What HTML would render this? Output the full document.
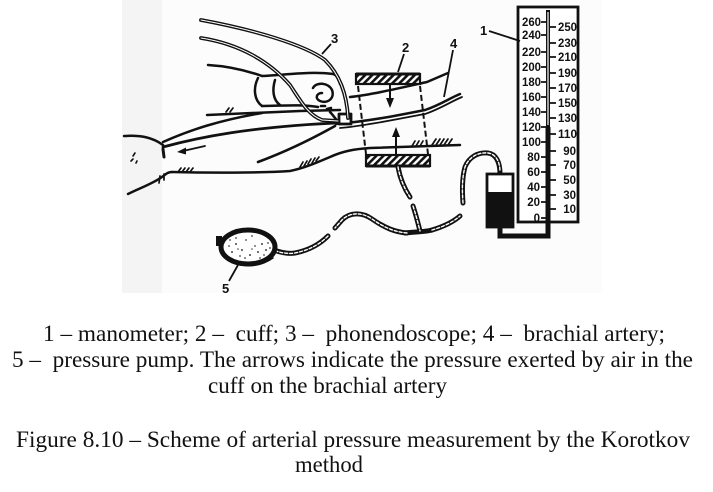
<!DOCTYPE html>
<html>
<head>
<meta charset="utf-8">
<style>
  html,body{margin:0;padding:0;background:#fff;}
  body{width:713px;height:492px;overflow:hidden;}
  svg{display:block;}
  .cap{font-family:"Liberation Serif","Times New Roman",serif;font-size:23px;fill:#111;white-space:pre;}
  .num{font-family:"Liberation Sans",Arial,sans-serif;font-size:11.5px;font-weight:bold;fill:#111;}
  .lab{font-family:"Liberation Sans",Arial,sans-serif;font-size:13px;font-weight:bold;fill:#111;}
</style>
</head>
<body>
<svg width="713" height="492" viewBox="0 0 713 492" xmlns="http://www.w3.org/2000/svg">
  <defs>
    <pattern id="h" width="5" height="5" patternUnits="userSpaceOnUse" patternTransform="rotate(45)">
      <rect width="5" height="5" fill="#fff"/>
      <rect width="2.6" height="5" fill="#111"/>
    </pattern>
  </defs>

  <!-- scanned drawing background -->
  <rect x="122" y="0" width="480" height="293" fill="#fcfcfc"/>
  <rect x="122" y="0" width="40" height="293" fill="#f4f4f4"/>

  <g fill="none" stroke="#111" stroke-width="2.5" stroke-linecap="round" stroke-linejoin="round">
    <!-- palm / wrist -->
    <path d="M124,136 C140,135 152,137 163,145"/>
    <path d="M163,149 L164,157" stroke-width="3"/>
    <path d="M128,194 C140,188 152,184 162,177 C166,174 168,172 172,172"/>
    <path d="M133,156 L135,153 M131,161 L133,159 M136,163 L137,161" stroke-width="1.6"/>
    <!-- lower arm contour -->
    <path d="M172,172 C210,173 260,173 290,171 C305,168 318,162 330,157 C343,151 355,149 370,148 L460,145"/>
    <!-- upper contour -->
    <path d="M207,115 L300,111 L340,110"/>
    <!-- lines from wrist -->
    <path d="M163,142 C190,130 220,120 262,113"/>
    <path d="M163,147 C200,137 250,127 336,123" stroke-width="2.8"/>
    <path d="M258,162 C285,152 310,140 335,126" stroke-width="2.6"/>
    <!-- wrist arrow -->
    <path d="M205,146 L183,151" stroke-width="1.8"/>
    <!-- artery through cuff (double) -->
    <path d="M336,124 C370,121 400,115 425,110 C440,105 450,98 460,94"/>
    <path d="M340,128 C372,125 402,118 425,114 C440,109 452,101 462,97" stroke-width="1.8"/>
    <!-- upper arm contour -->
    <path d="M350,97 C370,95 400,88 427,82 L448,73"/>

    <!-- hatch marks -->
    <g stroke-width="1.7">
      <path d="M178,172 L181,168 M182,172 L185,168 M186,172 L189,168 M190,172 L193,168"/>
      <path d="M159,183 L160,176 M164,180 L164,174"/>
      <path d="M300,167 L303,162 M304,166 L307,161 M308,164 L311,159 M312,163 L315,158 M316,161 L319,157"/>
      <path d="M412,146 L415,141 M416,146 L419,141 M420,146 L423,141"/>
      <path d="M432,145 L436,139 M436,145 L440,139 M440,145 L444,139 M444,145 L448,139 M448,145 L452,139"/>
      <path d="M226,112 L229,108 M230,112 L233,108"/>
    </g>

    <!-- hand -->
    <path d="M208,65 C225,66 245,70 262,76"/>
    <path d="M262,76 C285,75 310,71 333,74 C338,76 340,80 340,84"/>
    <path d="M258,78 C253,88 254,100 262,106"/>
    <path d="M275,80 C272,90 273,100 280,105"/>
    <path d="M262,106 C280,106 300,104 318,107"/>
    <path d="M313,88 C316,82 328,82 332,90 C335,98 328,104 320,101 C315,99 316,93 322,93"/>
    <path d="M321,106 L325,106 M327,109 L331,108" stroke-width="2.6"/>
    <rect x="339" y="114" width="12" height="10" stroke-width="2.8" fill="#fff"/>
    <path d="M330,112 C334,116 336,120 340,124" stroke-width="2.6"/>
  </g>

  <!-- arrowhead wrist -->
  <polygon points="177,152 186,147.5 186,154.5" fill="#111"/>

  <!-- phonendoscope tubes (double lines) -->
  <g fill="none" stroke-linecap="round">
    <path d="M201,20 C255,30 305,45 325,60 C340,75 347,95 348,118" stroke="#111" stroke-width="3.8"/>
    <path d="M201,20 C255,30 305,45 325,60 C340,75 347,95 348,118" stroke="#fff" stroke-width="1"/>
    <path d="M201,38 C240,44 270,62 290,85 C300,100 308,115 322,120 L338,121" stroke="#111" stroke-width="3.8"/>
    <path d="M201,38 C240,44 270,62 290,85 C300,100 308,115 322,120 L338,121" stroke="#fff" stroke-width="1"/>
  </g>

  <!-- cuff -->
  <rect x="356" y="74" width="64" height="10" fill="url(#h)" stroke="#111" stroke-width="2.2"/>
  <path d="M356,74 L420,74" stroke="#111" stroke-width="3"/>
  <rect x="366" y="155" width="64" height="11" fill="url(#h)" stroke="#111" stroke-width="2.2"/>
  <path d="M366,166 L430,166" stroke="#111" stroke-width="3"/>
  <g stroke="#111" stroke-width="2" stroke-dasharray="6 3" fill="none">
    <path d="M358,86 L366,154"/>
    <path d="M420,86 L428,154"/>
  </g>
  <path d="M390,85 L390,100" stroke="#111" stroke-width="2"/>
  <polygon points="390,108 386,98 394,98" fill="#111"/>
  <path d="M396,154 L396,135" stroke="#111" stroke-width="2"/>
  <polygon points="396,127 392,137 400,137" fill="#111"/>

  <!-- air hoses -->
  <g fill="none" stroke-linecap="round" stroke-linejoin="round">
    <g stroke="#111" stroke-width="5">
      <path d="M398,167 C400,178 404,188 410,197"/>
      <path d="M413,206 C416,215 418,223 420,231"/>
      <path d="M405,233 C412,232 425,232 432,230"/>
      <path d="M407,233 C395,232 385,228 372,219 C362,212 350,212 342,220 L335,228"/>
      <path d="M328,236 C320,244 310,250 295,253 C288,254 282,253 274,250"/>
      <path d="M432,230 C442,227 452,223 460,216"/>
      <path d="M463,203 C462,190 462,178 465,167 C469,157 478,152 488,153 C496,154 500,162 500,174"/>
    </g>
    <g stroke="#fff" stroke-width="1.4" stroke-dasharray="3 2">
      <path d="M398,167 C400,178 404,188 410,197"/>
      <path d="M413,206 C416,215 418,223 420,231"/>
      <path d="M407,233 C395,232 385,228 372,219 C362,212 350,212 342,220 L335,228"/>
      <path d="M328,236 C320,244 310,250 295,253 C288,254 282,253 276,251"/>
      <path d="M432,230 C442,227 452,223 460,216"/>
      <path d="M463,203 C462,190 462,178 465,167 C469,157 478,152 488,153 C496,154 500,162 500,172"/>
    </g>
  </g>

  <!-- bulb (pump) -->
  <ellipse cx="248" cy="247" rx="27" ry="17" fill="#fff" stroke="#111" stroke-width="5"/>
  <path d="M225,257 C235,267 258,268 273,257" fill="none" stroke="#111" stroke-width="3"/>
  <rect x="216" y="236" width="6" height="10" fill="#111"/>
  <g fill="#444">
    <circle cx="236" cy="244" r="1"/><circle cx="242" cy="250" r="1"/><circle cx="250" cy="255" r="1"/>
    <circle cx="258" cy="252" r="1"/><circle cx="262" cy="244" r="1"/><circle cx="232" cy="252" r="1"/>
    <circle cx="246" cy="240" r="0.9"/><circle cx="255" cy="246" r="0.9"/><circle cx="240" cy="256" r="0.9"/>
    <circle cx="266" cy="250" r="1"/><circle cx="252" cy="236" r="0.9"/><circle cx="229" cy="246" r="0.9"/>
    <circle cx="260" cy="258" r="0.9"/><circle cx="245" cy="258" r="0.9"/><circle cx="236" cy="238" r="0.9"/>
    <circle cx="268" cy="243" r="0.9"/><circle cx="264" cy="255" r="0.9"/><circle cx="230" cy="240" r="0.9"/>
    <circle cx="252" cy="249" r="0.8"/><circle cx="238" cy="249" r="0.8"/><circle cx="270" cy="248" r="0.9"/>
  </g>

  <!-- manometer -->
  <rect x="518" y="7" width="60" height="215" fill="#fff" stroke="#111" stroke-width="2.8"/>
  <path d="M548,10 L548,127" stroke="#111" stroke-width="4" fill="none"/>
  <path d="M548,12 L548,125" stroke="#fff" stroke-width="1.2" fill="none"/>
  <path d="M548,127 L548,236 L500,236 L500,226" stroke="#111" stroke-width="5" fill="none" stroke-linejoin="miter"/>
  <!-- reservoir bottle -->
  <rect x="487" y="174" width="26" height="53" fill="#fff" stroke="#111" stroke-width="2.8"/>
  <rect x="487" y="192" width="26" height="35" fill="#111"/>

  <!-- scale ticks -->
  <g stroke="#111" stroke-width="1.8">
    <path d="M541,22 L547,22 M541,35 L547,35 M541,52 L547,52 M541,67 L547,67 M541,82 L547,82 M541,97 L547,97 M541,112 L547,112 M541,127 L547,127 M541,142 L547,142 M541,157 L547,157 M541,172 L547,172 M541,187 L547,187 M541,202 L547,202 M541,218 L547,218"/>
    <path d="M549,27 L556,27 M549,43 L556,43 M549,57 L556,57 M549,73 L556,73 M549,88 L556,88 M549,103 L556,103 M549,118 L556,118 M549,134 L556,134 M549,151 L556,151 M549,165 L556,165 M549,180 L556,180 M549,195 L556,195 M549,209 L556,209"/>
  </g>
  <g class="num" text-anchor="end">
    <text x="541" y="26" textLength="19" lengthAdjust="spacingAndGlyphs">260</text>
    <text x="541" y="39" textLength="19" lengthAdjust="spacingAndGlyphs">240</text>
    <text x="541" y="56" textLength="19" lengthAdjust="spacingAndGlyphs">220</text>
    <text x="541" y="71" textLength="19" lengthAdjust="spacingAndGlyphs">200</text>
    <text x="541" y="86" textLength="19" lengthAdjust="spacingAndGlyphs">180</text>
    <text x="541" y="101" textLength="19" lengthAdjust="spacingAndGlyphs">160</text>
    <text x="541" y="116" textLength="19" lengthAdjust="spacingAndGlyphs">140</text>
    <text x="541" y="131" textLength="19" lengthAdjust="spacingAndGlyphs">120</text>
    <text x="541" y="146" textLength="19" lengthAdjust="spacingAndGlyphs">100</text>
    <text x="540" y="161">80</text>
    <text x="540" y="176">60</text>
    <text x="540" y="191">40</text>
    <text x="540" y="206">20</text>
    <text x="540" y="222">0</text>
  </g>
  <g class="num" text-anchor="end">
    <text x="577" y="31" textLength="19" lengthAdjust="spacingAndGlyphs">250</text>
    <text x="577" y="47" textLength="19" lengthAdjust="spacingAndGlyphs">230</text>
    <text x="577" y="61" textLength="19" lengthAdjust="spacingAndGlyphs">210</text>
    <text x="577" y="77" textLength="19" lengthAdjust="spacingAndGlyphs">190</text>
    <text x="577" y="92" textLength="19" lengthAdjust="spacingAndGlyphs">170</text>
    <text x="577" y="107" textLength="19" lengthAdjust="spacingAndGlyphs">150</text>
    <text x="577" y="122" textLength="19" lengthAdjust="spacingAndGlyphs">130</text>
    <text x="577" y="138" textLength="19" lengthAdjust="spacingAndGlyphs">110</text>
    <text x="576" y="155">90</text>
    <text x="576" y="169">70</text>
    <text x="576" y="184">50</text>
    <text x="576" y="199">30</text>
    <text x="576" y="213">10</text>
  </g>

  <!-- labels & leaders -->
  <g stroke="#111" stroke-width="1.8" fill="none">
    <path d="M489,31 L520,41"/>
    <path d="M404,54 L398,72"/>
    <path d="M331,44 L322,54"/>
    <path d="M453,50 L444,97"/>
    <path d="M229,281 L238,265"/>
  </g>
  <text class="lab" x="480" y="35">1</text>
  <text class="lab" x="402" y="52">2</text>
  <text class="lab" x="331" y="43">3</text>
  <text class="lab" x="450" y="48">4</text>
  <text class="lab" x="222" y="293">5</text>

  <!-- caption -->
  <text class="cap" x="43" y="341" textLength="622" lengthAdjust="spacingAndGlyphs">1 – manometer; 2 –  cuff; 3 –  phonendoscope; 4 –  brachial artery;</text>
  <text class="cap" x="12" y="367" textLength="681" lengthAdjust="spacingAndGlyphs">5 –  pressure pump. The arrows indicate the pressure exerted by air in the</text>
  <text class="cap" x="208" y="393" textLength="239" lengthAdjust="spacingAndGlyphs">cuff on the brachial artery</text>
  <text class="cap" x="16" y="447" textLength="674" lengthAdjust="spacingAndGlyphs">Figure 8.10 – Scheme of arterial pressure measurement by the Korotkov</text>
  <text class="cap" x="295" y="472" textLength="68" lengthAdjust="spacingAndGlyphs">method</text>
</svg>
</body>
</html>
